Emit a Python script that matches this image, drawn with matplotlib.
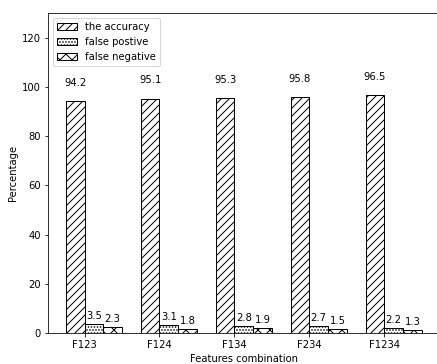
import numpy as np
import matplotlib
matplotlib.use('Agg')
import matplotlib.pyplot as plt

# combinazioni di feature e risultati (%)
features = ['F123', 'F124', 'F134', 'F234', 'F1234']
accuracy = [94.2, 95.1, 95.3, 95.8, 96.5]
false_pos = [3.5, 3.1, 2.8, 2.7, 2.2]
false_neg = [2.3, 1.8, 1.9, 1.5, 1.3]

x = np.arange(len(features))
w = 0.25

fig = plt.figure(figsize=(437/72, 364/72), dpi=72)
ax = fig.add_axes([0.1098, 0.0852, 0.896, 0.879])

b1 = ax.bar(x - w, accuracy, w, align='edge', color='white', edgecolor='black', hatch='///', label='the accuracy')
b2 = ax.bar(x, false_pos, w, align='edge', color='white', edgecolor='black', hatch='....', label='false postive')
b3 = ax.bar(x + w, false_neg, w, align='edge', color='white', edgecolor='black', hatch='xx', label='false negative')

# etichette con i valori sopra le barre
for r, v in zip(b1, accuracy):
    ax.text(r.get_x() + r.get_width()/2, v + 5.5, str(v), ha='center', va='bottom')
for bars, vals in ((b2, false_pos), (b3, false_neg)):
    for r, v in zip(bars, vals):
        ax.text(r.get_x() + r.get_width()/2, v + 1.2, str(v), ha='center', va='bottom')

ax.set_xticks(x)
ax.set_xticklabels(features)
ax.set_ylim(0, 130)
ax.set_xlabel('Features combination')
ax.set_ylabel('Percentage')
ax.legend(loc='upper left')

fig.savefig('out.png', dpi=72)
